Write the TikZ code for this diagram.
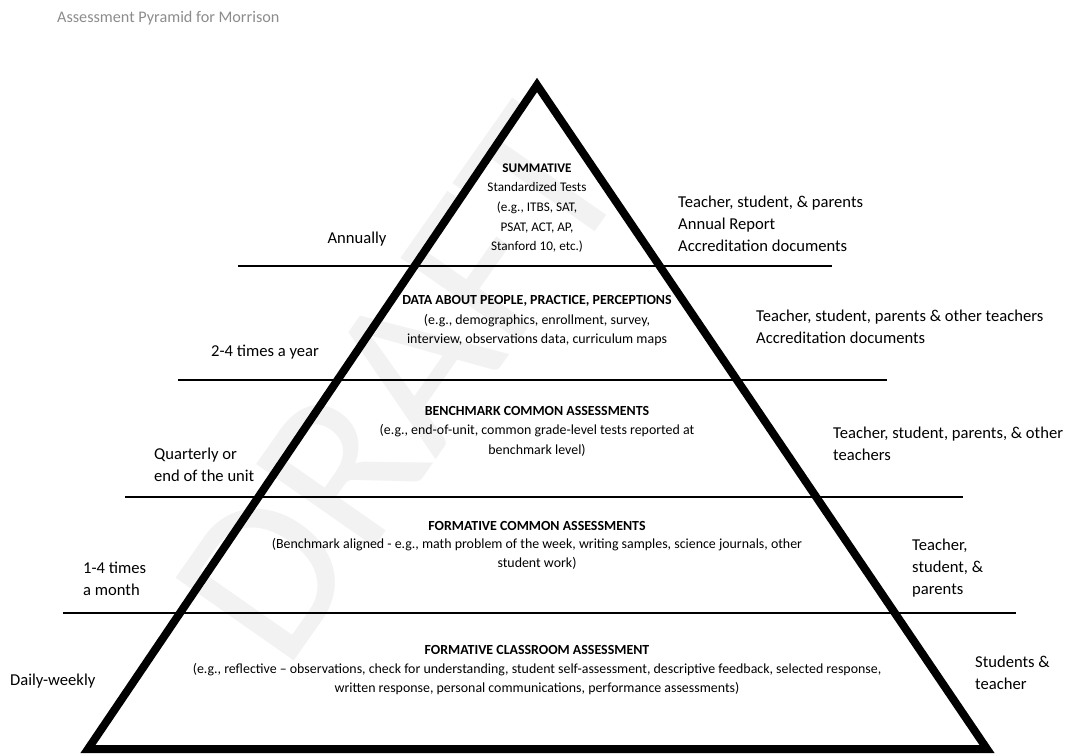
\documentclass[tikz,border=0pt]{standalone}
\usepackage{fontspec}
\setmainfont{Carlito}
\usepackage{tikz}
\tikzset{
    tier-text/.style = {align=center, inner sep=0pt, font=\fontsize{13.9}{19.5}\selectfont},
    side-text/.style = {align=left, anchor=west, inner sep=0pt, font=\fontsize{16.6}{22}\selectfont},
    tier-line/.style = {line width=2.5pt},
    pyramid-edge/.style = {line width=8pt, line join=miter},
}

\begin{document}
\begin{tikzpicture}[x=1pt, y=-1pt]
\useasboundingbox (0,0) rectangle (1065,753);

% faint watermark
\node[rotate=55, text=black!5, inner sep=0pt, font=\fontsize{225}{225}\selectfont] (draft) at (400,385) {DRAFT};

\node[anchor=west, inner sep=0pt, text=black!45, font=\fontsize{16.2}{18}\selectfont] (title) at (57,18) {Assessment Pyramid for Morrison};

% tier lines
\draw[tier-line] (238,266) -- (832,266);
\draw[tier-line] (178,380) -- (887,380);
\draw[tier-line] (125,497) -- (963,497);
\draw[tier-line] (63,613) -- (1016,613);

% the pyramid
\draw[pyramid-edge] (537,85) -- (987,749) -- (88,749) -- cycle;

% tiers
\node[tier-text, font=\fontsize{13.2}{19.7}\selectfont] (summative) at (537,208) {\textbf{SUMMATIVE}\\Standardized Tests\\(e.g., ITBS, SAT,\\PSAT, ACT, AP,\\Stanford 10, etc.)};
\node[tier-text] (data) at (537,321) {\textbf{DATA ABOUT PEOPLE, PRACTICE, PERCEPTIONS}\\(e.g., demographics, enrollment, survey,\\interview, observations data, curriculum maps};
\node[tier-text] (benchmark) at (537,431) {\textbf{BENCHMARK COMMON ASSESSMENTS}\\(e.g., end-of-unit, common grade-level tests reported at\\benchmark level)};
\node[tier-text, font=\fontsize{13.9}{18.5}\selectfont] (formative) at (537,545) {\textbf{FORMATIVE COMMON ASSESSMENTS}\\(Benchmark aligned - e.g., math problem of the week, writing samples, science journals, other\\student work)};
\node[tier-text, font=\fontsize{13.9}{19}\selectfont] (classroom) at (537,670) {\textbf{FORMATIVE CLASSROOM ASSESSMENT}\\(e.g., reflective -- observations, check for understanding, student self-assessment, descriptive feedback, selected response,\\written response, personal communications, performance assessments)};

% how often
\node[side-text, anchor=center] (annually) at (357,239) {Annually};
\node[side-text, anchor=center] (yearly) at (265,352) {2-4 times a year};
\node[side-text] (quarterly) at (154,465) {Quarterly or\\end of the unit};
\node[side-text] (monthly) at (83,579) {1-4 times\\a month};
\node[side-text] (daily) at (10,681) {Daily-weekly};

% who gets it
\node[side-text] (summative-who) at (678,224) {Teacher, student, \& parents\\Annual Report\\Accreditation documents};
\node[side-text] (data-who) at (756,327) {Teacher, student, parents \& other teachers\\Accreditation documents};
\node[side-text] (benchmark-who) at (833,444) {Teacher, student, parents, \& other\\teachers};
\node[side-text] (formative-who) at (912,568) {Teacher,\\student, \&\\parents};
\node[side-text] (classroom-who) at (975,673) {Students \&\\teacher};
\end{tikzpicture}
\end{document}
